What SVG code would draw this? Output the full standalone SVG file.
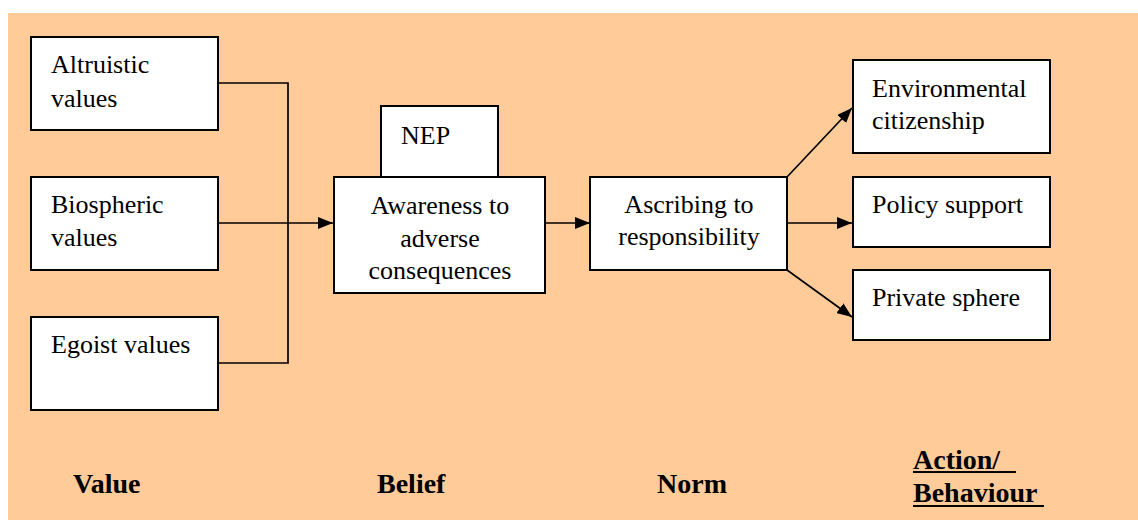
<svg xmlns="http://www.w3.org/2000/svg" width="1138" height="520" viewBox="0 0 1138 520">
  <defs>
    <marker id="arrow" viewBox="0 0 15 12" refX="15" refY="6" markerWidth="15" markerHeight="12" markerUnits="userSpaceOnUse" orient="auto">
      <path d="M0,0 L15,6 L0,12 Z" fill="#000"/>
    </marker>
  </defs>
  <style>
    .box { fill: #ffffff; stroke: #000; stroke-width: 2; }
    .txt { font-size: 26px; fill: #000; }
    .mid { text-anchor: middle; }
    .lbl { font-size: 28px; font-weight: bold; fill: #000; }
    .link { fill: none; stroke: #000; stroke-width: 1.7; }
    .ul { stroke: #000; stroke-width: 2; }
  </style>

  <!-- backdrop -->
  <rect x="8" y="13" width="1130" height="507" fill="#ffcc99"/>

  <!-- connectors -->
  <g id="connectors">
    <polyline class="link" points="218,83 288,83 288,363 218,363"/>
    <line class="link" x1="218" y1="223" x2="333" y2="223" marker-end="url(#arrow)"/>
    <line class="link" x1="545" y1="223" x2="590" y2="223" marker-end="url(#arrow)"/>
    <line class="link" x1="787" y1="177" x2="852" y2="108" marker-end="url(#arrow)"/>
    <line class="link" x1="787" y1="223" x2="852" y2="223" marker-end="url(#arrow)"/>
    <line class="link" x1="787" y1="270" x2="852" y2="317" marker-end="url(#arrow)"/>
  </g>

  <g font-family="Liberation Serif, DejaVu Serif, serif">
    <!-- value column -->
    <g id="altruistic">
      <rect class="box" x="31" y="37" width="187" height="93"/>
      <text class="txt" x="51" y="73">Altruistic</text>
      <text class="txt" x="51" y="107">values</text>
    </g>
    <g id="biospheric">
      <rect class="box" x="31" y="177" width="187" height="93"/>
      <text class="txt" x="51" y="213">Biospheric</text>
      <text class="txt" x="51" y="246">values</text>
    </g>
    <g id="egoist">
      <rect class="box" x="31" y="317" width="187" height="93"/>
      <text class="txt" x="51" y="353">Egoist values</text>
    </g>

    <!-- belief column -->
    <g id="nep">
      <rect class="box" x="381" y="106" width="117" height="71"/>
      <text class="txt" x="401" y="144">NEP</text>
    </g>
    <g id="awareness">
      <rect class="box" x="334" y="177" width="211" height="116"/>
      <text class="txt mid" x="440" y="214">Awareness to</text>
      <text class="txt mid" x="440" y="247">adverse</text>
      <text class="txt mid" x="440" y="279">consequences</text>
    </g>

    <!-- norm column -->
    <g id="ascribing">
      <rect class="box" x="590" y="177" width="197" height="93"/>
      <text class="txt mid" x="689" y="213">Ascribing to</text>
      <text class="txt mid" x="689" y="245">responsibility</text>
    </g>

    <!-- action column -->
    <g id="citizenship">
      <rect class="box" x="853" y="60" width="197" height="93"/>
      <text class="txt" x="872" y="97">Environmental</text>
      <text class="txt" x="872" y="129">citizenship</text>
    </g>
    <g id="policy">
      <rect class="box" x="853" y="177" width="197" height="70"/>
      <text class="txt" x="872" y="213">Policy support</text>
    </g>
    <g id="private">
      <rect class="box" x="853" y="270" width="197" height="70"/>
      <text class="txt" x="872" y="306">Private sphere</text>
    </g>

    <!-- stage labels -->
    <g id="labels">
      <text class="lbl" x="73" y="493">Value</text>
      <text class="lbl" x="377" y="493">Belief</text>
      <text class="lbl" x="657" y="493">Norm</text>
      <text class="lbl" x="913" y="469">Action/</text>
      <line class="ul" x1="913" y1="472" x2="1016" y2="472"/>
      <text class="lbl" x="913" y="502">Behaviour</text>
      <line class="ul" x1="913" y1="506" x2="1044" y2="506"/>
    </g>
  </g>
</svg>
